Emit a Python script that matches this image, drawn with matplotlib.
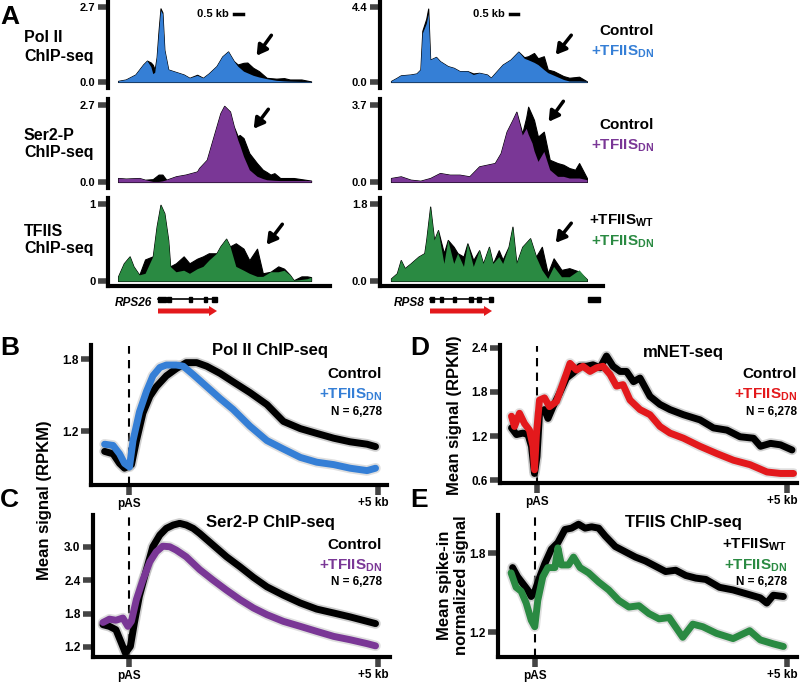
import matplotlib
matplotlib.use('Agg')
import matplotlib.pyplot as plt
import matplotlib.transforms as mtransforms
from matplotlib.patches import FancyArrow, Rectangle

plt.rcParams['font.family'] = 'Liberation Sans'
plt.rcParams['font.weight'] = 'bold'
plt.rcParams['mathtext.fontset'] = 'custom'
plt.rcParams['mathtext.rm'] = 'Liberation Sans:bold'
plt.rcParams['mathtext.bf'] = 'Liberation Sans:bold'
plt.rcParams['mathtext.default'] = 'rm'

BLUE = '#357fd6'
PURPLE = '#7a3796'
GREEN = '#2a8a42'
RED = '#e3191c'
TICKC = '#444444'

# ---- panel A: browser tracks (position = % of window) ----
polii_l_pos = [0, 4, 9, 13, 15, 17, 18, 19, 20, 21, 22, 23, 24, 26, 30, 34, 37, 41, 44, 47, 51, 54, 57,
               60, 62, 65, 67, 70, 73, 77, 82, 86, 89, 95, 100]
polii_l_dn = [0.04, 0.09, 0.27, 0.63, 0.77, 0.55, 0.30, 0.35, 0.90, 1.75, 2.58, 2.46, 1.16, 0.45, 0.36, 0.27,
              0.15, 0.24, 0.15, 0.31, 0.57, 0.92, 1.10, 0.75, 0.57, 0.39, 0.33, 0.24, 0.18, 0.12, 0.06, 0.04,
              0.03, 0.02, 0.02]
polii_l_ctrl = [0.04, 0.09, 0.27, 0.63, 0.77, 0.70, 0.62, 0.45, 0.90, 1.85, 2.65, 2.50, 1.16, 0.45, 0.36, 0.27,
                0.15, 0.26, 0.15, 0.31, 0.57, 0.92, 1.10, 0.75, 0.63, 0.69, 0.70, 0.51, 0.39, 0.15, 0.12, 0.14,
                0.09, 0.09, 0.02]

ser2_l_pos = [0, 4, 11, 14, 18, 21, 23, 25, 30, 35, 41, 42, 46, 49, 53, 55, 58, 60, 62, 63, 65, 68, 72, 75,
              77, 79, 81, 84, 91, 100]
ser2_l_dn = [0.14, 0.12, 0.14, 0.08, 0.02, 0.02, 0.04, 0.08, 0.20, 0.26, 0.37, 0.49, 0.78, 1.48, 2.41, 2.67,
             2.47, 1.94, 1.48, 1.30, 0.90, 0.43, 0.20, 0.12, 0.08, 0.07, 0.06, 0.05, 0.05, 0.05]
ser2_l_ctrl = [0.14, 0.12, 0.14, 0.08, 0.10, 0.26, 0.26, 0.08, 0.20, 0.26, 0.37, 0.49, 0.78, 1.48, 2.41, 2.67,
               2.47, 1.94, 1.60, 1.65, 1.54, 1.01, 0.66, 0.43, 0.35, 0.26, 0.31, 0.14, 0.14, 0.05]

tfiis_l_pos = [0, 3, 6, 8, 11, 14, 18, 20, 22, 24, 26, 27, 30, 34, 37, 41, 44, 47, 51, 53, 56, 58, 61, 65,
               68, 72, 75, 79, 83, 86, 89, 91, 95, 98, 100]
tfiis_l_dn = [0.06, 0.23, 0.32, 0.19, 0.08, 0.10, 0.32, 0.71, 0.99, 0.88, 0.53, 0.19, 0.12, 0.14, 0.10, 0.16,
              0.19, 0.27, 0.36, 0.45, 0.55, 0.45, 0.19, 0.14, 0.10, 0.06, 0.06, 0.12, 0.12, 0.14, 0.08, 0.01,
              0.02, 0.03, 0.05]
tfiis_l_wt = [0.06, 0.23, 0.32, 0.19, 0.08, 0.28, 0.32, 0.71, 0.99, 0.88, 0.53, 0.19, 0.23, 0.32, 0.23, 0.29,
              0.32, 0.36, 0.36, 0.45, 0.55, 0.45, 0.49, 0.42, 0.27, 0.42, 0.10, 0.12, 0.19, 0.16, 0.08, 0.01,
              0.06, 0.06, 0.05]

polii_r_pos = [0, 3, 5, 10, 13, 15, 16, 18, 19, 20, 23, 25, 29, 32, 35, 39, 42, 45, 49, 51, 54, 57, 61, 65,
               68, 70, 73, 75, 78, 80, 83, 88, 91, 96, 100]
polii_r_dn = [0.06, 0.25, 0.39, 0.44, 0.50, 0.73, 2.86, 3.43, 4.00, 1.31, 1.47, 1.22, 0.93, 0.83, 0.64, 0.64,
              0.44, 0.54, 0.44, 0.25, 0.64, 1.02, 1.31, 1.78, 1.39, 1.30, 1.15, 1.02, 0.73, 0.55, 0.40, 0.15,
              0.06, 0.06, 0.04]
polii_r_ctrl = [0.06, 0.25, 0.39, 0.44, 0.50, 0.73, 3.00, 3.70, 4.30, 1.31, 1.47, 1.22, 0.93, 0.83, 0.64, 0.64,
                0.50, 0.54, 0.44, 0.25, 0.64, 1.02, 1.31, 1.78, 1.45, 1.51, 1.70, 1.39, 1.51, 0.73, 0.64, 0.35,
                0.25, 0.31, 0.04]

ser2_r_pos = [0, 5, 10, 15, 20, 25, 30, 35, 40, 45, 49, 53, 56, 59, 62, 64, 67, 69, 70, 72, 73, 75, 78, 81,
              85, 88, 91, 94, 96, 100]
ser2_r_dn = [0.19, 0.27, 0.11, 0.06, 0.19, 0.43, 0.35, 0.35, 0.27, 0.75, 0.83, 0.91, 1.39, 2.42, 2.98, 3.38,
             2.26, 2.58, 2.30, 1.87, 1.50, 0.99, 1.47, 0.59, 0.27, 0.27, 0.19, 0.19, 0.19, 0.11]
ser2_r_ctrl = [0.19, 0.27, 0.11, 0.06, 0.19, 0.43, 0.35, 0.35, 0.27, 0.75, 0.83, 0.91, 1.39, 2.42, 2.98, 3.38,
               2.34, 3.10, 3.62, 3.20, 2.98, 2.18, 2.42, 1.07, 0.91, 0.83, 0.67, 0.59, 0.91, 0.19]

tfiis_r_pos = [0, 3, 5, 7, 10, 14, 17, 18, 20, 22, 24, 27, 29, 32, 34, 37, 39, 42, 45, 47, 50, 52, 55, 57,
               60, 62, 64, 67, 71, 74, 77, 80, 83, 87, 91, 96, 100]
tfiis_r_dn = [0.06, 0.18, 0.49, 0.30, 0.41, 0.57, 0.65, 0.96, 1.74, 0.96, 1.19, 0.41, 0.96, 0.41, 0.65, 0.34,
              0.88, 0.34, 0.72, 0.41, 0.80, 0.41, 0.57, 0.41, 0.80, 1.27, 0.41, 0.80, 1.00, 0.57, 0.26, 0.06,
              0.34, 0.10, 0.10, 0.26, 0.04]
tfiis_r_wt = [0.06, 0.18, 0.49, 0.30, 0.41, 0.57, 0.65, 0.96, 1.74, 0.96, 1.19, 0.65, 0.96, 0.80, 0.65, 0.57,
              0.88, 0.49, 0.72, 0.41, 0.80, 0.41, 0.72, 0.50, 0.80, 1.27, 0.41, 0.80, 1.00, 0.57, 0.80, 0.18,
              0.53, 0.26, 0.30, 0.22, 0.04]

# ---- panels B-E: metagene profiles (kb from pAS) ----
b_x = [-0.49, -0.32, -0.19, -0.09, 0.05, 0.15, 0.28, 0.42, 0.55, 0.75, 0.95, 1.15, 1.36, 1.56, 1.83, 2.09,
       2.43, 2.77, 3.10, 3.44, 3.77, 4.11, 4.44, 4.78, 4.95]
b_ctrl = [1.03, 1.01, 0.93, 0.89, 0.92, 1.12, 1.35, 1.49, 1.57, 1.66, 1.72, 1.77, 1.77, 1.74, 1.68, 1.61,
          1.52, 1.42, 1.28, 1.22, 1.18, 1.14, 1.11, 1.09, 1.07]
b_dn_x = [-0.49, -0.32, -0.19, -0.09, 0.01, 0.08, 0.21, 0.35, 0.48, 0.62, 0.75, 0.95, 1.09, 1.29, 1.56,
          1.83, 2.09, 2.43, 2.77, 3.10, 3.44, 3.77, 4.11, 4.44, 4.78, 4.95]
b_dn = [1.09, 1.08, 1.01, 0.93, 0.90, 1.12, 1.36, 1.53, 1.66, 1.73, 1.75, 1.75, 1.74, 1.67, 1.57, 1.47,
        1.38, 1.24, 1.12, 1.05, 0.98, 0.94, 0.92, 0.89, 0.87, 0.89]

c_x = [-0.52, -0.39, -0.26, -0.15, -0.07, 0.03, 0.11, 0.21, 0.35, 0.48, 0.62, 0.75, 0.89, 1.02, 1.15, 1.29,
       1.42, 1.69, 1.96, 2.23, 2.50, 2.77, 3.10, 3.44, 3.77, 4.11, 4.44, 4.78, 4.95]
c_ctrl = [1.60, 1.57, 1.51, 1.27, 1.09, 1.21, 1.63, 2.11, 2.58, 3.00, 3.21, 3.33, 3.39, 3.42, 3.39, 3.33,
          3.24, 3.03, 2.82, 2.64, 2.45, 2.28, 2.13, 1.99, 1.88, 1.81, 1.74, 1.66, 1.62]
c_dn_x = [-0.52, -0.39, -0.26, -0.12, -0.02, 0.05, 0.15, 0.28, 0.42, 0.55, 0.68, 0.82, 0.95, 1.15, 1.42,
          1.69, 1.96, 2.23, 2.50, 2.77, 3.10, 3.44, 3.77, 4.11, 4.44, 4.78, 4.95]
c_dn = [1.64, 1.70, 1.68, 1.72, 1.57, 1.66, 2.05, 2.40, 2.73, 2.91, 3.01, 3.00, 2.94, 2.82, 2.59, 2.40, 2.22,
        2.05, 1.90, 1.78, 1.66, 1.57, 1.48, 1.39, 1.33, 1.26, 1.22]

d_x = [-0.51, -0.41, -0.28, -0.18, -0.11, -0.05, 0.0, 0.05, 0.15, 0.22, 0.32, 0.45, 0.59, 0.72, 0.86, 0.99,
       1.12, 1.26, 1.39, 1.52, 1.66, 1.79, 1.93, 2.06, 2.26, 2.46, 2.66, 2.93, 3.26, 3.53, 3.80, 4.06, 4.33,
       4.47, 4.67, 4.87, 5.10]
d_ctrl = [1.31, 1.22, 1.24, 1.22, 1.06, 0.69, 0.92, 1.51, 1.56, 1.44, 1.60, 1.78, 1.99, 2.06, 2.15, 2.15,
          2.17, 2.13, 2.29, 2.15, 2.08, 2.08, 1.94, 1.99, 1.74, 1.63, 1.56, 1.49, 1.42, 1.31, 1.28, 1.19, 1.17,
          1.06, 1.10, 1.08, 1.01]
d_dn_x = [-0.51, -0.45, -0.35, -0.25, -0.15, -0.08, -0.05, -0.01, 0.05, 0.15, 0.25, 0.39, 0.52, 0.66, 0.79,
          0.92, 1.06, 1.19, 1.32, 1.46, 1.59, 1.72, 1.86, 2.06, 2.26, 2.46, 2.66, 2.93, 3.26, 3.60, 3.93, 4.26,
          4.60, 4.87, 5.13]
d_dn = [1.47, 1.33, 1.51, 1.37, 1.28, 1.06, 0.74, 1.24, 1.69, 1.72, 1.60, 1.67, 1.92, 2.19, 2.10, 2.15, 2.08,
        2.13, 2.15, 2.04, 1.88, 1.90, 1.69, 1.56, 1.49, 1.33, 1.24, 1.17, 1.06, 0.96, 0.87, 0.81, 0.71, 0.69,
        0.69]

e_x = [-0.45, -0.35, -0.25, -0.15, -0.08, 0.0, 0.09, 0.19, 0.32, 0.45, 0.59, 0.72, 0.86, 0.99, 1.12, 1.26,
       1.39, 1.59, 1.79, 1.99, 2.19, 2.39, 2.59, 2.79, 2.99, 3.19, 3.39, 3.66, 3.93, 4.20, 4.47, 4.60, 4.73,
       4.93]
e_wt = [1.69, 1.62, 1.57, 1.52, 1.47, 1.52, 1.62, 1.72, 1.83, 1.88, 1.98, 1.99, 2.02, 1.99, 2.00, 1.99, 1.93,
        1.85, 1.81, 1.77, 1.74, 1.70, 1.66, 1.67, 1.63, 1.61, 1.60, 1.54, 1.52, 1.49, 1.46, 1.42, 1.48, 1.47]
e_dn_x = [-0.48, -0.38, -0.28, -0.18, -0.08, -0.01, 0.05, 0.15, 0.25, 0.39, 0.45, 0.52, 0.66, 0.76, 0.89,
          1.06, 1.26, 1.46, 1.66, 1.86, 2.06, 2.26, 2.46, 2.66, 2.93, 3.13, 3.33, 3.60, 3.93, 4.26, 4.47, 4.73,
          4.93]
e_dn = [1.65, 1.54, 1.51, 1.42, 1.29, 1.24, 1.44, 1.62, 1.69, 1.69, 1.84, 1.71, 1.71, 1.77, 1.69, 1.65, 1.58,
        1.52, 1.44, 1.39, 1.40, 1.34, 1.30, 1.31, 1.16, 1.26, 1.24, 1.19, 1.15, 1.21, 1.14, 1.11, 1.09]

W, H = 800, 682
fig = plt.figure(figsize=(W / 100, H / 100), dpi=100)


def px_axes(x0, y0, x1, y1):
    # pixel box (top-left origin) -> figure axes
    return fig.add_axes([x0 / W, 1 - y1 / H, (x1 - x0) / W, (y1 - y0) / H])


def style(ax, bottom=True):
    for s in ['top', 'right']:
        ax.spines[s].set_visible(False)
    ax.spines['left'].set_linewidth(3)
    ax.spines['bottom'].set_linewidth(3)
    if not bottom:
        ax.spines['bottom'].set_visible(False)
    ax.patch.set_alpha(0)
    ax.tick_params(direction='out', length=7, width=4, color=TICKC, labelsize=8, pad=2)


def track(box, pos, ctrl, dn, color, ylim, ticks, labels, bottom, xlim):
    ax = px_axes(*box)
    ax.fill_between(pos, ctrl, color='black', lw=0.8, edgecolor='black')
    ax.fill_between(pos, dn, color=color, lw=0)
    ax.set_xlim(*xlim)
    ax.set_ylim(*ylim)
    ax.set_yticks(ticks)
    ax.set_yticklabels(labels)
    ax.set_xticks([])
    style(ax, bottom)
    return ax


xl_l = (-5.2, 109.8)
xl_r = (-5.6, 108.2)
track((108, 0, 330, 88), polii_l_pos, polii_l_ctrl, polii_l_dn, BLUE, (-0.216, 2.95), [0, 2.7], ['0.0', '2.7'], False, xl_l)
track((108, 99, 330, 188), ser2_l_pos, ser2_l_ctrl, ser2_l_dn, PURPLE, (-0.21, 2.91), [0, 2.7], ['0.0', '2.7'], False, xl_l)
track((108, 198, 330, 286), tfiis_l_pos, tfiis_l_wt, tfiis_l_dn, GREEN, (-0.065, 1.078), [0, 1], ['0', '1'], True, xl_l)
track((380, 0, 603, 88), polii_r_pos, polii_r_ctrl, polii_r_dn, BLUE, (-0.35, 4.8), [0, 4.4], ['0.0', '4.4'], False, xl_r)
track((380, 99, 603, 188), ser2_r_pos, ser2_r_ctrl, ser2_r_dn, PURPLE, (-0.29, 3.99), [0, 3.7], ['0.0', '3.7'], False, xl_r)
track((380, 198, 603, 286), tfiis_r_pos, tfiis_r_wt, tfiis_r_dn, GREEN, (-0.117, 1.94), [0, 1.8], ['0.0', '1.8'], True, xl_r)


def profile(box, xlim, ylim, yticks, xa, ya, xb, yb, color):
    ax = px_axes(*box)
    ax.plot(xa, ya, color='#b0b0b0', lw=7.5, alpha=0.6, solid_capstyle='round')
    ax.plot(xb, yb, color='#b0b0b0', lw=7.5, alpha=0.4, solid_capstyle='round')
    ax.plot(xa, ya, color='black', lw=5, solid_capstyle='round', solid_joinstyle='round')
    ax.plot(xb, yb, color=color, lw=5, solid_capstyle='round', solid_joinstyle='round')
    ax.axvline(0, color='black', lw=1.5, ls=(0, (4, 3)), ymax=0.99, zorder=0)
    ax.set_xlim(*xlim)
    ax.set_ylim(*ylim)
    ax.set_yticks(yticks)
    ax.set_yticklabels(['%.1f' % t for t in yticks])
    ax.set_xticks([0, 5])
    ax.set_xticklabels(['pAS', '+5 kb'])
    style(ax)
    ax.tick_params(labelsize=8.5)
    # nudge "+5 kb" a little left so it stays inside the figure
    lab = ax.get_xticklabels()[1]
    lab.set_transform(lab.get_transform() + mtransforms.ScaledTranslation(-5 / 100, 0, fig.dpi_scale_trans))
    return ax


profile((91, 345, 387, 485), (-0.763, 5.18), (0.75, 1.917), [1.2, 1.8], b_x, b_ctrl, b_dn_x, b_dn, BLUE)
profile((93, 515, 390, 657), (-0.72, 5.24), (1.02, 3.57), [1.2, 1.8, 2.4, 3.0], c_x, c_ctrl, c_dn_x, c_dn, PURPLE)
profile((500, 345, 797, 483), (-0.74, 5.2), (0.56, 2.44), [0.6, 1.2, 1.8, 2.4], d_x, d_ctrl, d_dn_x, d_dn, RED)
profile((498, 515, 797, 657), (-0.74, 5.2), (1.01, 2.09), [1.2, 1.8], e_x, e_wt, e_dn_x, e_dn, GREEN)

# overlay for labels, arrows, gene models
ov = fig.add_axes([0, 0, 1, 1], zorder=10)
ov.set_xlim(0, W)
ov.set_ylim(H, 0)
ov.axis('off')


def t(x, y, s, size=11, ha='left', color='black', **kw):
    ov.text(x, y, s, fontsize=size, ha=ha, va='center', color=color, fontweight='bold', **kw)


t(0, 17, 'A', 19)
t(24, 47, 'Pol II\nChIP-seq', 11.5, linespacing=1.25)
t(24, 144, 'Ser2-P\nChIP-seq', 11.5, linespacing=1.25)
t(24, 240, 'TFIIS\nChIP-seq', 11.5, linespacing=1.25)

t(197, 14, '0.5 kb', 8)
t(473, 14, '0.5 kb', 8)
ov.plot([234, 243], [14, 14], color='black', lw=2.5)
ov.plot([510, 518], [14, 14], color='black', lw=2.5)

for lab, y0, c in [('Control', 31, 'black'), ('+TFIIS$_{DN}$', 52, BLUE),
                   ('Control', 125, 'black'), ('+TFIIS$_{DN}$', 146, PURPLE),
                   ('+TFIIS$_{WT}$', 221, 'black'), ('+TFIIS$_{DN}$', 242, GREEN)]:
    t(654, y0, lab, 11, ha='right', color=c)

for tip, tail in [((255, 58), (273, 33)), ((252, 131), (270, 107)), ((265, 247), (284, 222)),
                  ((554, 57), (573, 33)), ((547, 124), (565, 99)), ((554, 245), (573, 221))]:
    ov.annotate('', xy=tip, xytext=tail,
                arrowprops=dict(arrowstyle='-|>,head_length=0.6,head_width=0.35', lw=2.5, color='black'))

# gene models
t(152, 303, 'RPS26', 8.5, ha='right', style='italic')
t(425, 303, 'RPS8', 8.5, ha='right', style='italic')
ov.plot([158, 217], [299, 299], color='black', lw=1.2)
ov.plot([430, 493], [299, 299], color='black', lw=1.2)
for x0, w in [(158, 8), (167, 4), (189, 3), (204, 3), (212, 5)]:
    ov.add_patch(Rectangle((x0, 296.5), w, 5, color='black'))
for x0, w in [(430, 4), (440, 3), (453, 3), (469, 4), (477, 4), (489, 4)]:
    ov.add_patch(Rectangle((x0, 296.5), w, 5, color='black'))
ov.add_patch(Rectangle((588, 296.5), 12, 5, color='black'))
ov.add_patch(FancyArrow(158, 311, 51, 0, width=5, head_width=10, head_length=8, color=RED, lw=0))
ov.add_patch(FancyArrow(430, 311, 54, 0, width=5, head_width=10, head_length=8, color=RED, lw=0))

# panel letters, titles and legends B-E
t(0, 348, 'B', 19)
t(0, 500, 'C', 19)
t(410, 348, 'D', 19)
t(410, 500, 'E', 19)
t(270, 350, 'Pol II ChIP-seq', 12, ha='center')
t(270, 522, 'Ser2-P ChIP-seq', 12, ha='center')
t(683, 352, 'mNET-seq', 12, ha='center')
t(683, 522, 'TFIIS ChIP-seq', 12, ha='center')

for xr, ys, lab2, c, lab1 in [(382, (374, 395, 412), '+TFIIS$_{DN}$', BLUE, 'Control'),
                              (382, (545, 566, 582), '+TFIIS$_{DN}$', PURPLE, 'Control'),
                              (797, (374, 395, 412), '+TFIIS$_{DN}$', RED, 'Control'),
                              (787, (545, 566, 582), '+TFIIS$_{DN}$', GREEN, '+TFIIS$_{WT}$')]:
    t(xr, ys[0], lab1, 11, ha='right')
    t(xr, ys[1], lab2, 11, ha='right', color=c)
    t(xr, ys[2], 'N = 6,278', 8.5, ha='right')

ov.text(45, 500, 'Mean signal (RPKM)', fontsize=12, fontweight='bold', rotation=90, ha='center', va='center')
ov.text(455, 415, 'Mean signal (RPKM)', fontsize=12, fontweight='bold', rotation=90, ha='center', va='center')
ov.text(453, 585, 'Mean spike-in\nnormalized signal', fontsize=12, fontweight='bold', rotation=90,
        ha='center', va='center', linespacing=1.1)

fig.savefig('out.png', dpi=100)
